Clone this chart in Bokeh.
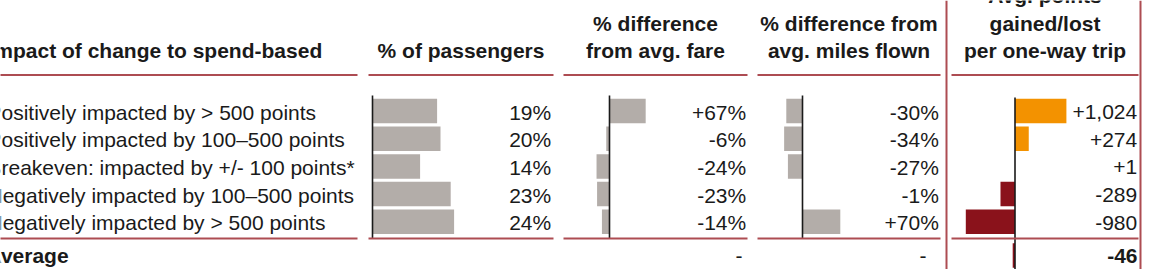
from bokeh.plotting import figure
from bokeh.models import Range1d, ColumnDataSource
from bokeh.core.properties import value
from bokeh.embed import file_html
from bokeh.resources import INLINE

# ---------------- data ----------------
segments = [
    "Positively impacted by > 500 points",
    "Positively impacted by 100\u2013500 points",
    "Breakeven: impacted by +/- 100 points*",
    "Negatively impacted by 100\u2013500 points",
    "Negatively impacted by > 500 points",
]
pct_passengers = [19, 20, 14, 23, 24]
pct_diff_fare = [67, -6, -24, -23, -14]
pct_diff_miles = [-30, -34, -27, -1, 70]
avg_points = [1024, 274, 1, -289, -980]
average_label = "Average"
average_points = -46

header_segments = "Impact of change to spend-based"
header_pax = ["% of passengers"]
header_fare = ["% difference", "from avg. fare"]
header_miles = ["% difference from", "avg. miles flown"]
header_points = ["Avg. points", "gained/lost", "per one-way trip"]

# ---------------- styling ----------------
W, H = 1156, 269
FONT = value("Liberation Sans")
FS = "21px"
TXT = "#1a1a1a"
RULE = "#ad4c52"
GREY = "#b3ada9"
ORANGE = "#f39200"
DARKRED = "#8a121b"
AXIS = "#1a1a1a"

ROW0, ROW_H, BAR_H = 110.5, 27.7, 24.5
AVG_Y = 255
rows_y = [ROW0 + i * ROW_H for i in range(len(segments))]
label_y = [ROW0 + 1 + i * ROW_H for i in range(len(segments))]

p = figure(width=W, height=H, x_range=Range1d(0, W), y_range=Range1d(H, 0),
           output_backend="svg", toolbar_location=None, min_border=0,
           x_axis_location=None, y_axis_location=None)
p.grid.visible = False
p.outline_line_color = None
p.background_fill_color = "white"
p.border_fill_color = "white"


def col_range(zero_px, px_per_unit):
    return Range1d(-zero_px / px_per_unit, (W - zero_px) / px_per_unit)


p.extra_x_ranges = {
    "pax": col_range(372, 3.4),
    "fare": col_range(609, 0.54),
    "miles": col_range(802, 0.54),
    "pts": col_range(1014.5, 0.0502),
}

# ---------------- bars ----------------
pax_src = ColumnDataSource(dict(y=rows_y, v=pct_passengers))
p.hbar(y="y", left=0, right="v", height=BAR_H, source=pax_src, x_range_name="pax",
       fill_color=GREY, line_color=None)
fare_src = ColumnDataSource(dict(y=rows_y, v=pct_diff_fare))
p.hbar(y="y", left=0, right="v", height=BAR_H, source=fare_src, x_range_name="fare",
       fill_color=GREY, line_color=None)
miles_src = ColumnDataSource(dict(y=rows_y, v=pct_diff_miles))
p.hbar(y="y", left=0, right="v", height=BAR_H, source=miles_src, x_range_name="miles",
       fill_color=GREY, line_color=None)
pts_vals = avg_points + [average_points]
pts_y = rows_y + [AVG_Y]
pts_src = ColumnDataSource(dict(y=pts_y, v=pts_vals,
                                c=[ORANGE if v >= 0 else DARKRED for v in pts_vals]))
p.hbar(y="y", left=0, right="v", height=BAR_H, source=pts_src, x_range_name="pts",
       fill_color="c", line_color=None)

# ---------------- zero axes ----------------
top_axis, bottom_rule = 95, 238
for rn in ["pax", "fare", "miles"]:
    p.segment(x0=[0], y0=[top_axis], x1=[0], y1=[bottom_rule], x_range_name=rn,
              line_color=AXIS, line_width=1.6)
p.segment(x0=[0], y0=[97], x1=[0], y1=[H], x_range_name="pts",
          line_color=AXIS, line_width=1.6)

# ---------------- rules ----------------
col_spans = [(-5, 357), (368, 553), (563, 747), (757, 940), (951, 1138)]
for (a, b) in col_spans:
    p.segment(x0=[a, a], y0=[74.5, bottom_rule], x1=[b, b], y1=[74.5, bottom_rule],
              line_color=RULE, line_width=2)
p.segment(x0=[946, 1140], y0=[0, 0], x1=[946, 1140], y1=[H, H],
          line_color=RULE, line_width=2)

# ---------------- text ----------------
def txt(x, y, t, align="left", bold=False):
    p.text(x=x, y=y, text=t, text_font=FONT, text_font_size=FS,
           text_align=align, text_baseline="middle", text_color=TXT,
           text_font_style="bold" if bold else "normal")


# headers
txt([-12], [50], [header_segments], bold=True)
txt([460.5], [50], header_pax, align="center", bold=True)
txt([655] * 2, [23.3, 50], header_fare, align="center", bold=True)
txt([848.5] * 2, [23.3, 50], header_miles, align="center", bold=True)
txt([1044.5] * 3, [-5.5, 23.3, 50], header_points, align="center", bold=True)

# row labels
txt([-13] * len(segments), label_y, segments)
txt([-14], [AVG_Y], [average_label], bold=True)

# values
txt([550.7] * 5, label_y, [f"{v}%" for v in pct_passengers], align="right")
txt([745.7] * 5, label_y, [f"{v:+d}%" for v in pct_diff_fare], align="right")
txt([938.3] * 5, label_y, [f"{v:+d}%" for v in pct_diff_miles], align="right")
txt([1136.7] * 5, label_y, [f"{v:+,}" for v in avg_points], align="right")
txt([742, 926], [AVG_Y, AVG_Y], ["-", "-"], align="right")
txt([1137], [AVG_Y], [f"{average_points:+,}"], align="right", bold=True)

open("out.html", "w").write(file_html(p, INLINE))
